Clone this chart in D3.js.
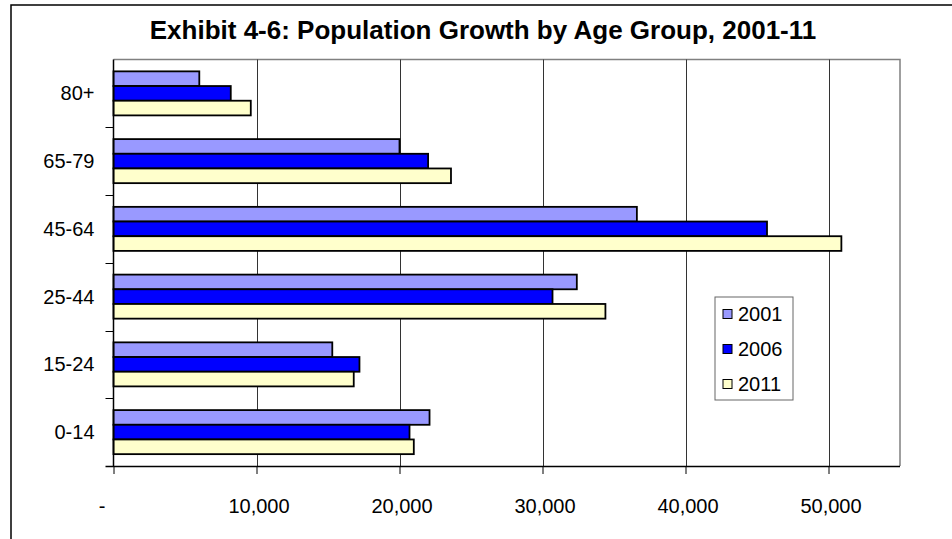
<!DOCTYPE html>
<html>
<head>
<meta charset="utf-8">
<script src="https://cdn.jsdelivr.net/npm/d3@7"></script>
<style>
  html, body { margin: 0; padding: 0; background: #fff; }
  svg { display: block; }
  text { font-family: "Liberation Sans", Arial, sans-serif; fill: #000; }
</style>
</head>
<body>
<svg id="chart" width="952" height="539"></svg>
<script>
// Age groups, listed top to bottom as drawn
const categories = ["80+", "65-79", "45-64", "25-44", "15-24", "0-14"];
const seriesNames = ["2001", "2006", "2011"];
// Population per age group for each census year
const values2001 = [6000, 20000, 36600, 32400, 15300, 22100];
const values2006 = [8200, 22000, 45700, 30700, 17200, 20700];
const values2011 = [9600, 23600, 50900, 34400, 16800, 21000];
const xTicks = [0, 10000, 20000, 30000, 40000, 50000];
const colors = ["#9999FF", "#0000FF", "#FFFFCC"];

const svg = d3.select("#chart");
const W = 952, H = 539;
const plot = { left: 113.5, right: 900, top: 59.5, bottom: 466 };

// outer chart frame (runs off the right and bottom edges)
svg.append("rect")
  .attr("x", 11).attr("y", 5)
  .attr("width", W + 20).attr("height", H + 20)
  .attr("fill", "#fff").attr("stroke", "#000").attr("stroke-width", 1.5);

// title
svg.append("text")
  .attr("x", 483).attr("y", 39)
  .attr("text-anchor", "middle")
  .attr("font-size", 26).attr("font-weight", "bold")
  .text("Exhibit 4-6: Population Growth by Age Group, 2001-11");

const x = d3.scaleLinear().domain([0, 55000]).range([plot.left, plot.right]);
const y = d3.scaleBand().domain(categories).range([plot.top, plot.bottom]).padding(0);
const inner = d3.scaleBand().domain(seriesNames)
  .range([y.bandwidth() * 0.175, y.bandwidth() * 0.825]).padding(0);

// plot area border (top and right)
svg.append("path")
  .attr("d", `M${plot.left},${plot.top}H${plot.right}V${plot.bottom}`)
  .attr("fill", "none").attr("stroke", "#808080").attr("stroke-width", 1.5);

// vertical gridlines
svg.append("g")
  .selectAll("line")
  .data(xTicks.filter(d => d > 0))
  .join("line")
  .attr("x1", d => Math.round(x(d)) + 0.5).attr("x2", d => Math.round(x(d)) + 0.5)
  .attr("y1", plot.top).attr("y2", plot.bottom)
  .attr("stroke", "#333").attr("stroke-width", 1);

// bars
const seriesValues = [values2001, values2006, values2011];
const rows = categories.map((c, i) => ({
  category: c,
  items: seriesNames.map((s, j) => ({ series: s, value: seriesValues[j][i], color: colors[j] }))
}));

const groups = svg.append("g").selectAll("g")
  .data(rows)
  .join("g")
  .attr("transform", d => `translate(0,${y(d.category)})`);

groups.selectAll("rect")
  .data(d => d.items)
  .join("rect")
  .attr("x", x(0))
  .attr("y", d => inner(d.series))
  .attr("width", d => x(d.value) - x(0))
  .attr("height", inner.bandwidth())
  .attr("fill", d => d.color)
  .attr("stroke", "#000").attr("stroke-width", 1.8);

// x axis
const xAxis = d3.axisBottom(x)
  .tickValues(xTicks)
  .tickSize(8)
  .tickPadding(25)
  .tickFormat(d => d === 0 ? "-" : d3.format(",")(d));
const gx = svg.append("g")
  .attr("transform", `translate(0,${plot.bottom})`)
  .call(xAxis);
gx.select(".domain").attr("stroke", "#000").attr("stroke-width", 1.5)
  .attr("d", `M${plot.left - 8},0.5H${plot.right}`);
gx.selectAll(".tick line").attr("stroke", "#000");
gx.selectAll(".tick text")
  .attr("font-size", 20)
  .attr("font-family", "Liberation Sans, Arial, sans-serif")
  .attr("fill", "#000")
  .attr("dx", d => d === 0 ? -12 : 2);

// y axis with ticks on the category boundaries
const gy = svg.append("g");
gy.append("line")
  .attr("x1", plot.left).attr("x2", plot.left)
  .attr("y1", plot.top).attr("y2", plot.bottom)
  .attr("stroke", "#000").attr("stroke-width", 1.5);
gy.selectAll("line.tick")
  .data(categories.slice(1))
  .join("line")
  .attr("class", "tick")
  .attr("x1", plot.left - 8).attr("x2", plot.left)
  .attr("y1", d => Math.round(y(d)) + 0.5).attr("y2", d => Math.round(y(d)) + 0.5)
  .attr("stroke", "#000");
gy.selectAll("text")
  .data(categories)
  .join("text")
  .attr("x", plot.left - 19)
  .attr("y", d => y(d) + y.bandwidth() / 2)
  .attr("dy", "0.35em")
  .attr("text-anchor", "end")
  .attr("font-size", 20)
  .text(d => d);

// legend
const legend = svg.append("g").attr("transform", "translate(715,297)");
legend.append("rect")
  .attr("x", 0).attr("y", 0).attr("width", 78).attr("height", 103)
  .attr("fill", "#fff").attr("stroke", "#666").attr("stroke-width", 1);
const items = legend.selectAll("g.item")
  .data(seriesNames)
  .join("g")
  .attr("class", "item")
  .attr("transform", (d, i) => `translate(8,${17 + i * 35})`);
items.append("rect")
  .attr("x", 0).attr("y", -4.5).attr("width", 9).attr("height", 9)
  .attr("fill", (d, i) => colors[i])
  .attr("stroke", "#000").attr("stroke-width", 1);
items.append("text")
  .attr("x", 15).attr("y", 0).attr("dy", "0.35em")
  .attr("font-size", 20)
  .text(d => d);
</script>
</body>
</html>
